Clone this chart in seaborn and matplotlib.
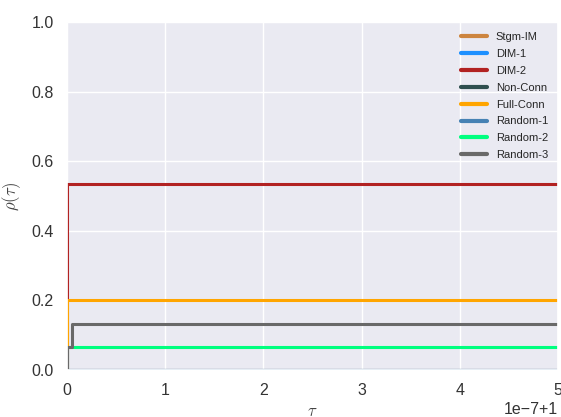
import numpy as np
import pandas as pd
import matplotlib
matplotlib.use("Agg")
import matplotlib.pyplot as plt
import seaborn as sns

# ---- data (tau values in units of 1e-7 above 1, rho fractions) ----
algorithms = ["Stgm-IM", "DIM-1", "DIM-2", "Non-Conn", "Full-Conn",
              "Random-1", "Random-2", "Random-3"]
colors = ["peru", "dodgerblue", "firebrick", "darkslategray", "orange",
          "steelblue", "springgreen", "dimgray"]
tau_steps = {
    "Stgm-IM":   [0.0, 0.0, 5.0],
    "DIM-1":     [0.0, 0.0, 5.0],
    "DIM-2":     [0.0, 0.0, 5.0],
    "Non-Conn":  [0.0, 0.0, 5.0],
    "Full-Conn": [0.0, 0.0, 5.0],
    "Random-1":  [0.0, 0.0, 5.0],
    "Random-2":  [0.0, 0.0, 5.0],
    "Random-3":  [0.0, 0.0, 0.05, 5.0],
}
rho_steps = {
    "Stgm-IM":   [0.0, 0.0, 0.0],
    "DIM-1":     [0.0, 0.0, 0.0],
    "DIM-2":     [0.0, 8 / 15, 8 / 15],
    "Non-Conn":  [0.0, 0.0, 0.0],
    "Full-Conn": [0.0, 3 / 15, 3 / 15],
    "Random-1":  [0.0, 0.0, 0.0],
    "Random-2":  [0.0, 1 / 15, 1 / 15],
    "Random-3":  [0.0, 1 / 15, 2 / 15, 2 / 15],
}
tau_scale = 1e-7

sns.set_theme(style="darkgrid")
plt.rcParams["font.family"] = ["Liberation Sans", "DejaVu Sans"]
plt.rcParams["mathtext.fontset"] = "cm"

fig = plt.figure(figsize=(5.61, 4.17), dpi=100)
ax = fig.add_axes([67 / 561, 1 - 370 / 417, (558 - 67) / 561, (370 - 22) / 417])

for name, col in zip(algorithms, colors):
    df = pd.DataFrame({"tau": 1.0 + np.array(tau_steps[name]) * tau_scale,
                       "rho": rho_steps[name]})
    sns.lineplot(data=df, x="tau", y="rho", ax=ax, color=col, label=name,
                 sort=False, estimator=None, drawstyle="steps-post",
                 linewidth=2.2)

ax.set_xlim(1.0, 1.0 + 5 * tau_scale)
ax.set_ylim(0.0, 1.0)
ax.set_xlabel(r"$\tau$", fontsize=12, color="#444444")
ax.set_ylabel(r"$\rho(\tau)$", fontsize=12, color="#444444", labelpad=6)
ax.tick_params(axis="both", labelsize=11.5, colors="#333333")
ax.xaxis.get_offset_text().set_fontsize(11.5)

leg = ax.legend(loc="upper right", fontsize=8, frameon=False,
                labelspacing=0.62, handlelength=2.35)
for line in leg.get_lines():
    line.set_linewidth(3)

fig.savefig("out.png", dpi=100)
